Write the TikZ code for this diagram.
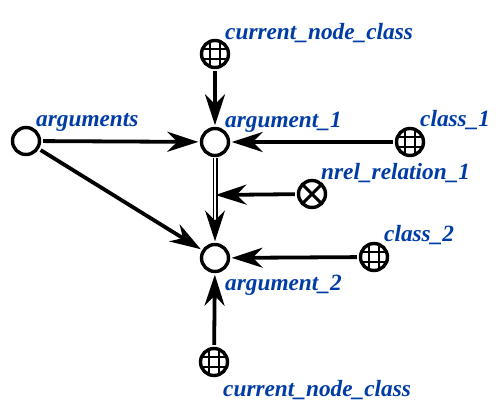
\documentclass[tikz,border=0pt]{standalone}
\usepackage{fontspec}
\setmainfont{Liberation Serif}
\usetikzlibrary{arrows.meta,calc}
\definecolor{lbl}{RGB}{0,60,165}
\tikzset{
  plainnode/.style={circle,draw=black,line width=3.4pt,minimum size=27pt,inner sep=0pt,outer sep=1.7pt,fill=white},
  gridnode/.style={plainnode,path picture={
    \draw[line width=1.1pt,black]
      ($(path picture bounding box.center)+(-5pt,-15pt)$) -- ++(0,30pt)
      ($(path picture bounding box.center)+(5pt,-15pt)$) -- ++(0,30pt)
      ($(path picture bounding box.center)+(-15pt,-5pt)$) -- ++(30pt,0)
      ($(path picture bounding box.center)+(-15pt,5pt)$) -- ++(30pt,0);}},
  crossnode/.style={plainnode,path picture={
    \draw[line width=3pt,black]
      ($(path picture bounding box.center)+(-12pt,-12pt)$) -- ++(24pt,24pt)
      ($(path picture bounding box.center)+(-12pt,12pt)$) -- ++(24pt,-24pt);}},
  lab/.style={text=lbl,font=\fontsize{23.3}{23.3}\selectfont\bfseries\itshape,inner sep=0pt,anchor=base west},
  conn/.style={line width=3.8pt,-{Stealth[length=31pt,width=20pt,inset=10pt]},shorten >=1.5pt,shorten <=2pt},
  dblconn/.style={line width=1.2pt,double=white,double distance=2.6pt,-{Stealth[length=31pt,width=20pt,inset=10pt]},shorten >=1.5pt,shorten <=1pt}
}
\begin{document}
\begin{tikzpicture}[x=1pt,y=-1pt]
\useasboundingbox (0,0) rectangle (503,411);
\node[plainnode] (args) at (26,141) {};
\node[plainnode] (a1) at (215,142) {};
\node[plainnode] (a2) at (215,258) {};
\node[gridnode] (cnt) at (215,54) {};
\node[gridnode] (c1) at (410,142) {};
\node[crossnode] (nrel) at (312,194) {};
\node[gridnode] (c2) at (374,257) {};
\node[gridnode] (cnb) at (214,362) {};
\coordinate (mid) at (215.5,195);
\draw[conn] (cnt) -- (a1);
\draw[conn] (args) -- (a1);
\draw[conn] (c1) -- (a1);
\draw[conn] (args) -- (a2);
\draw[conn] (c2) -- (a2);
\draw[conn] (cnb) -- (a2);
\draw[dblconn] (a1) -- (a2);
\draw[conn,shorten >=0pt] (nrel) -- (mid);
\node[lab] (t1) at (225,40) {current\_node\_class};
\node[lab] (t2) at (36,127) {arguments};
\node[lab] (t3) at (225,128) {argument\_1};
\node[lab] (t4) at (420,127) {class\_1};
\node[lab] (t5) at (321,180) {nrel\_relation\_1};
\node[lab] (t6) at (384,242) {class\_2};
\node[lab] (t7) at (225,291) {argument\_2};
\node[lab] (t8) at (223,396) {current\_node\_class};
\end{tikzpicture}
\end{document}
